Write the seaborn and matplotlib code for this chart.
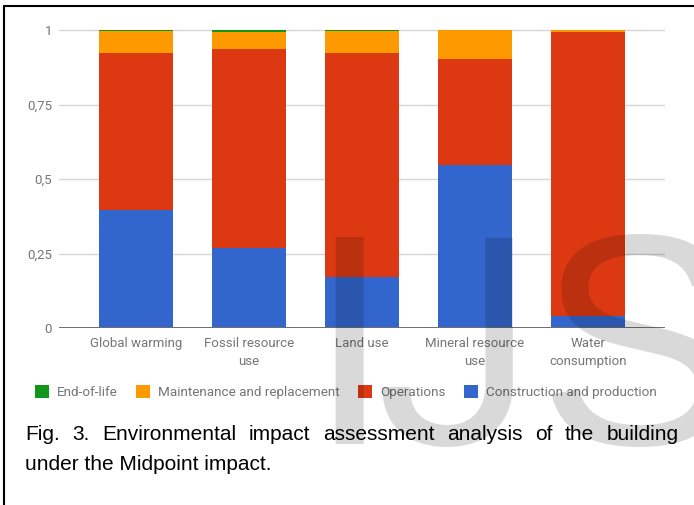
import matplotlib
matplotlib.use("Agg")
import matplotlib.pyplot as plt
import seaborn as sns
import pandas as pd
import numpy as np
from matplotlib.patches import Patch
from matplotlib.lines import Line2D
from matplotlib.textpath import TextPath
from matplotlib.font_manager import FontProperties

# Midpoint impact shares per life-cycle stage
categories = ["Global warming", "Fossil resource\nuse", "Land use",
              "Mineral resource\nuse", "Water\nconsumption"]
construction = [0.397, 0.270, 0.171, 0.547, 0.041]
operations = [0.526, 0.666, 0.752, 0.356, 0.953]
maintenance = [0.074, 0.057, 0.074, 0.097, 0.006]
end_of_life = [0.003, 0.007, 0.003, 0.0, 0.0]

series_names = ["End-of-life", "Maintenance and replacement",
                "Operations", "Construction and production"]
series_colors = ["#109618", "#ff9900", "#dc3912", "#3366cc"]

y_ticks = [0, 0.25, 0.5, 0.75, 1]
y_tick_labels = ["0", "0,25", "0,5", "0,75", "1"]

caption_lines = ["Fig. 3. Environmental impact assessment analysis of the building",
                 "under the Midpoint impact."]
watermark = "IJS"

sns.set_theme(style="white")
plt.rcParams["font.family"] = ["Roboto", "DejaVu Sans"]

W, H = 694, 505
DPI = 100
fig = plt.figure(figsize=(W / DPI, H / DPI), dpi=DPI)
fig.patch.set_facecolor("white")


def fx(px):
    return px / W


def fy(py):
    return 1 - py / H


# plot area in pixels
x_left, x_right = 59, 665
y_zero, y_one = 328.3, 30.0
y_top = 1.02
top_px = y_zero - y_top * (y_zero - y_one)
ax = fig.add_axes([fx(x_left), fy(y_zero), (x_right - x_left) / W, (y_zero - top_px) / H])

df = pd.DataFrame({
    "category": categories,
    "construction": construction,
    "operations": operations,
    "maintenance": maintenance,
    "end_of_life": end_of_life,
})
df["lvl_construction"] = df["construction"]
df["lvl_operations"] = df["lvl_construction"] + df["operations"]
df["lvl_maintenance"] = df["lvl_operations"] + df["maintenance"]
df["lvl_end_of_life"] = df["lvl_maintenance"] + df["end_of_life"]

# stacked bars: draw cumulative totals from the top stage down
levels = ["lvl_end_of_life", "lvl_maintenance", "lvl_operations", "lvl_construction"]
for col, color in zip(levels, series_colors):
    sns.barplot(data=df, x="category", y=col, order=categories, color=color,
                saturation=1, width=0.65, linewidth=0, ax=ax, zorder=2)

ax.set_xlim(-0.681, 4.681)
ax.set_ylim(0, y_top)
ax.set_yticks(y_ticks)
ax.set_yticklabels(y_tick_labels)
ax.yaxis.grid(True, color="#d6d6d6", linewidth=1.0)
ax.set_axisbelow(True)
ax.axhline(0, color="#6f6f6f", linewidth=1.4, zorder=3)
for s in ax.spines.values():
    s.set_visible(False)
ax.set_xlabel("")
ax.set_ylabel("")
ax.tick_params(axis="y", length=0, pad=5, labelsize=9.5, labelcolor="#757575")
ax.tick_params(axis="x", length=0, pad=6.5, labelsize=9.5, labelcolor="#757575")
for lbl in ax.get_xticklabels():
    lbl.set_linespacing(1.45)

handles = [Patch(facecolor=c, edgecolor="none") for c in series_colors]
fig.legend(handles, series_names, loc="center", bbox_to_anchor=(fx(346), fy(392)),
           ncol=4, frameon=False, fontsize=9.7, handlelength=1.05, handleheight=1.1,
           handletextpad=0.6, columnspacing=1.35, labelcolor="#757575",
           borderpad=0, borderaxespad=0)

# justified caption
cap_font = dict(fontsize=15, family=["Liberation Sans", "DejaVu Sans"], color="black",
                va="baseline", ha="left")
cap_left, cap_right = 25, 679
renderer = fig.canvas.get_renderer()
words = caption_lines[0].split()
word_arts = [fig.text(0, fy(440), w, **cap_font) for w in words]
widths = [a.get_window_extent(renderer).width for a in word_arts]
gap = (cap_right - cap_left - sum(widths)) / (len(words) - 1)
xpos = cap_left
for art, wdt in zip(word_arts, widths):
    art.set_x(fx(xpos))
    xpos += wdt + gap
fig.text(fx(cap_left), fy(470), caption_lines[1], **cap_font)

# frame lines
fig.add_artist(Line2D([fx(3.5), fx(3.5)], [fy(6), 0], color="black", linewidth=1.5))
fig.add_artist(Line2D([fx(3.5), 1], [fy(6), fy(6)], color="black", linewidth=1.5))

# watermark letters, each placed by its ink edge
wm_size = 216
wm_base = 444
wm_style = dict(color="black", alpha=0.15, ha="left", va="baseline", zorder=10)


def ink_box(ch, family, size):
    ext = TextPath((0, 0), ch, size=size, prop=FontProperties(family=family)).get_extents()
    k = DPI / 72
    return ext.x0 * k, ext.x1 * k, ext.y1 * k


letter_I, letter_J, letter_S = watermark
i_x0, _, i_top = ink_box(letter_I, "Liberation Sans", wm_size)
_, _, j_top = ink_box(letter_J, "Roboto", wm_size)
j_size = wm_size * i_top / j_top
_, j_x1, _ = ink_box(letter_J, "Roboto", j_size)
s_x0, _, _ = ink_box(letter_S, "Liberation Sans", wm_size)
fig.text(fx(335 - i_x0), fy(wm_base), letter_I, family="Liberation Sans",
         fontsize=wm_size, **wm_style)
fig.text(fx(512 - j_x1), fy(wm_base), letter_J, family="Roboto",
         fontsize=j_size, **wm_style)
fig.text(fx(551 - s_x0), fy(wm_base), letter_S, family="Liberation Sans",
         fontsize=wm_size, **wm_style)

fig.savefig("out.png", dpi=DPI)
